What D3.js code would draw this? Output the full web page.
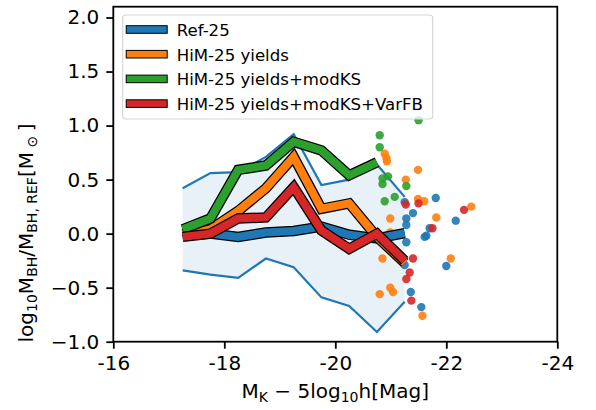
<!DOCTYPE html>
<html>
<head>
<meta charset="utf-8">
<script src="https://cdn.jsdelivr.net/npm/d3@7"></script>
<style>
  body { margin: 0; background: #fff; }
  svg { display: block; font-family: "DejaVu Sans", sans-serif; }
</style>
</head>
<body>
<svg id="chart"></svg>
<script>
// magnitude bins
const mags = [-17.25, -17.75, -18.25, -18.75, -19.25, -19.75, -20.25, -20.75, -21.25];
// Ref-25 scatter band (thin lines + shaded)
const refUpper = [0.42, 0.56, 0.57, 0.71, 0.92, 0.45, 0.50, 0.64, 0.34];
const refLower = [-0.34, -0.38, -0.41, -0.23, -0.31, -0.59, -0.67, -0.91, -0.63];
// medians
const ref25 = [-0.02, 0.0, -0.03, 0.01, 0.025, 0.065, -0.01, -0.045, 0.005];
const him25 = [-0.01, 0.04, 0.21, 0.42, 0.71, 0.23, 0.28, -0.03, -0.27];
const him25KS = [0.04, 0.14, 0.59, 0.63, 0.85, 0.77, 0.54, 0.66];
const him25KSFB = [-0.03, 0.0, 0.14, 0.15, 0.43, 0.03, -0.14, 0.0, -0.25];

// individual bright galaxies
const refPtsX = [-21.81, -21.40, -21.28, -21.28, -22.17, -21.70, -21.64, -21.61, -21.28, -22.00, -21.25, -21.36, -21.55, -21.25];
const refPtsY = [0.33, 0.19, 0.14, 0.08, 0.12, 0.05, -0.02, -0.03, -0.08, -0.30, -0.29, -0.54, -0.68, 0.29];
const himPtsX = [-20.89, -20.92, -20.93, -21.49, -21.27, -21.49, -21.60, -20.99, -21.82, -22.45, -20.99, -20.85, -22.08, -20.80, -20.99, -21.04, -21.57];
const himPtsY = [0.74, 0.70, 0.67, 0.59, 0.50, 0.32, 0.30, 0.14, 0.15, 0.25, 0.01, -0.23, -0.23, -0.56, -0.50, -0.54, -0.76];
const ksPtsX = [-21.50, -20.80, -20.80, -20.85, -20.95, -20.85, -21.28, -21.07, -20.89];
const ksPtsY = [1.05, 0.91, 0.80, 0.51, 0.53, 0.46, 0.44, 0.34, 0.30];
const fbPtsX = [-21.27, -21.50, -22.32, -21.75, -21.40, -21.34, -21.28, -21.37];
const fbPtsY = [0.27, 0.28, 0.22, 0.05, -0.23, -0.36, -0.42, -0.62];

const seriesNames = ["Ref-25", "HiM-25 yields", "HiM-25 yields+modKS", "HiM-25 yields+modKS+VarFB"];
const seriesColors = ["#1f77b4", "#ff7f0e", "#2ca02c", "#d62728"];

const xTicks = [-16, -18, -20, -22, -24];
const xTickLabels = ["-16", "-18", "-20", "-22", "-24"];
const yTicks = [-1.0, -0.5, 0.0, 0.5, 1.0, 1.5, 2.0];

const W = 596, H = 410;
const margin = { top: 6.7, right: 596 - 557.3, bottom: 410 - 341.7, left: 113.3 };
const width = W - margin.left - margin.right;
const height = H - margin.top - margin.bottom;

const svg = d3.select("#chart").attr("width", W).attr("height", H);
const g = svg.append("g").attr("transform", `translate(${margin.left},${margin.top})`);

const x = d3.scaleLinear().domain([-16, -24]).range([0, width]);
const y = d3.scaleLinear().domain([-1.0, 2.1]).range([height, 0]);

// shaded band
const band = mags.map((m, i) => ({ m, lo: refLower[i], hi: refUpper[i] }));
g.append("path")
    .datum(band)
    .attr("d", d3.area().x(d => x(d.m)).y0(d => y(d.lo)).y1(d => y(d.hi)))
    .attr("fill", seriesColors[0])
    .attr("fill-opacity", 0.1);

const line = d3.line().x(d => x(d[0])).y(d => y(d[1]));

[refUpper, refLower].forEach(arr => {
    g.append("path")
        .datum(mags.map((m, i) => [m, arr[i]]))
        .attr("d", line)
        .attr("fill", "none")
        .attr("stroke", seriesColors[0])
        .attr("stroke-width", 2.2);
});

// scatter points
const pts = [[refPtsX, refPtsY], [himPtsX, himPtsY], [ksPtsX, ksPtsY], [fbPtsX, fbPtsY]];
pts.forEach((p, k) => {
    g.append("g").selectAll("circle")
        .data(p[0].map((v, i) => [v, p[1][i]]))
        .enter()
        .append("circle")
        .attr("cx", d => x(d[0]))
        .attr("cy", d => y(d[1]))
        .attr("r", 4.2)
        .attr("fill", seriesColors[k])
        .attr("fill-opacity", 0.9);
});

// thick median lines with black outline
const medians = [ref25, him25, him25KS, him25KSFB];
medians.forEach((arr, k) => {
    const data = arr.map((v, i) => [mags[i], v]);
    g.append("path")
        .datum(data)
        .attr("d", line)
        .attr("fill", "none")
        .attr("stroke", "#000")
        .attr("stroke-width", 10.5)
        .attr("stroke-linejoin", "miter")
        .attr("stroke-linecap", "butt");
    g.append("path")
        .datum(data)
        .attr("d", line)
        .attr("fill", "none")
        .attr("stroke", seriesColors[k])
        .attr("stroke-width", 8)
        .attr("stroke-linejoin", "miter")
        .attr("stroke-linecap", "butt");
});

// axes
const xAxis = g.append("g")
    .attr("transform", `translate(0,${height})`)
    .call(d3.axisBottom(x).tickValues(xTicks).tickFormat((d, i) => xTickLabels[i])
        .tickSize(7).tickSizeOuter(0).tickPadding(7));
const yAxis = g.append("g")
    .call(d3.axisLeft(y).tickValues(yTicks).tickFormat(d3.format(".1f"))
        .tickSize(7).tickSizeOuter(0).tickPadding(7));

[xAxis, yAxis].forEach(a => {
    a.selectAll("text").attr("font-size", 20).attr("font-family", "DejaVu Sans").attr("fill", "#000");
    a.selectAll("line").attr("stroke", "#000").attr("stroke-width", 1.8);
    a.select(".domain").remove();
});

// frame
g.append("rect")
    .attr("width", width).attr("height", height)
    .attr("fill", "none").attr("stroke", "#000").attr("stroke-width", 1.8);

// legend
const leg = svg.append("g").attr("transform", "translate(122.7,15)");
leg.append("rect")
    .attr("width", 310).attr("height", 104).attr("rx", 3)
    .attr("fill", "#fff").attr("fill-opacity", 0.8)
    .attr("stroke", "#d6d6d6").attr("stroke-width", 1.2);
seriesNames.forEach((name, i) => {
    const cy = 14.5 + i * 24.7;
    leg.append("rect")
        .attr("x", 3.5).attr("y", cy - 3.8).attr("width", 41).attr("height", 7.6)
        .attr("fill", seriesColors[i]).attr("stroke", "#000").attr("stroke-width", 1);
    leg.append("text")
        .attr("x", 54).attr("y", cy + 6.3)
        .attr("font-size", 16.6)
        .text(name);
});

// math-ish label helper
function mathText(sel, parts, fs) {
    let shifted = false;
    parts.forEach(([s, sub]) => {
        const t = sel.append("tspan").text(s);
        if (sub && !shifted) { t.attr("dy", fs * 0.22).attr("font-size", fs * 0.7); shifted = true; }
        else if (sub) { t.attr("font-size", fs * 0.7); }
        else if (!sub && shifted) { t.attr("dy", -fs * 0.22); shifted = false; }
    });
}

const xl = svg.append("text")
    .attr("x", margin.left + width / 2).attr("y", 398)
    .attr("text-anchor", "middle").attr("font-size", 20);
mathText(xl, [["M", 0], ["K", 1], [" \u2212 5log", 0], ["10", 1], ["h[Mag]", 0]], 20);

const yl = svg.append("text")
    .attr("transform", "translate(33,233) rotate(-90)")
    .attr("text-anchor", "middle").attr("font-size", 20);
mathText(yl, [["log", 0], ["10", 1], ["M", 0], ["BH", 1], ["/M", 0], ["BH, REF", 1], ["[M", 0], [" \u2299 ", 1], ["]", 0]], 20);
</script>
</body>
</html>
